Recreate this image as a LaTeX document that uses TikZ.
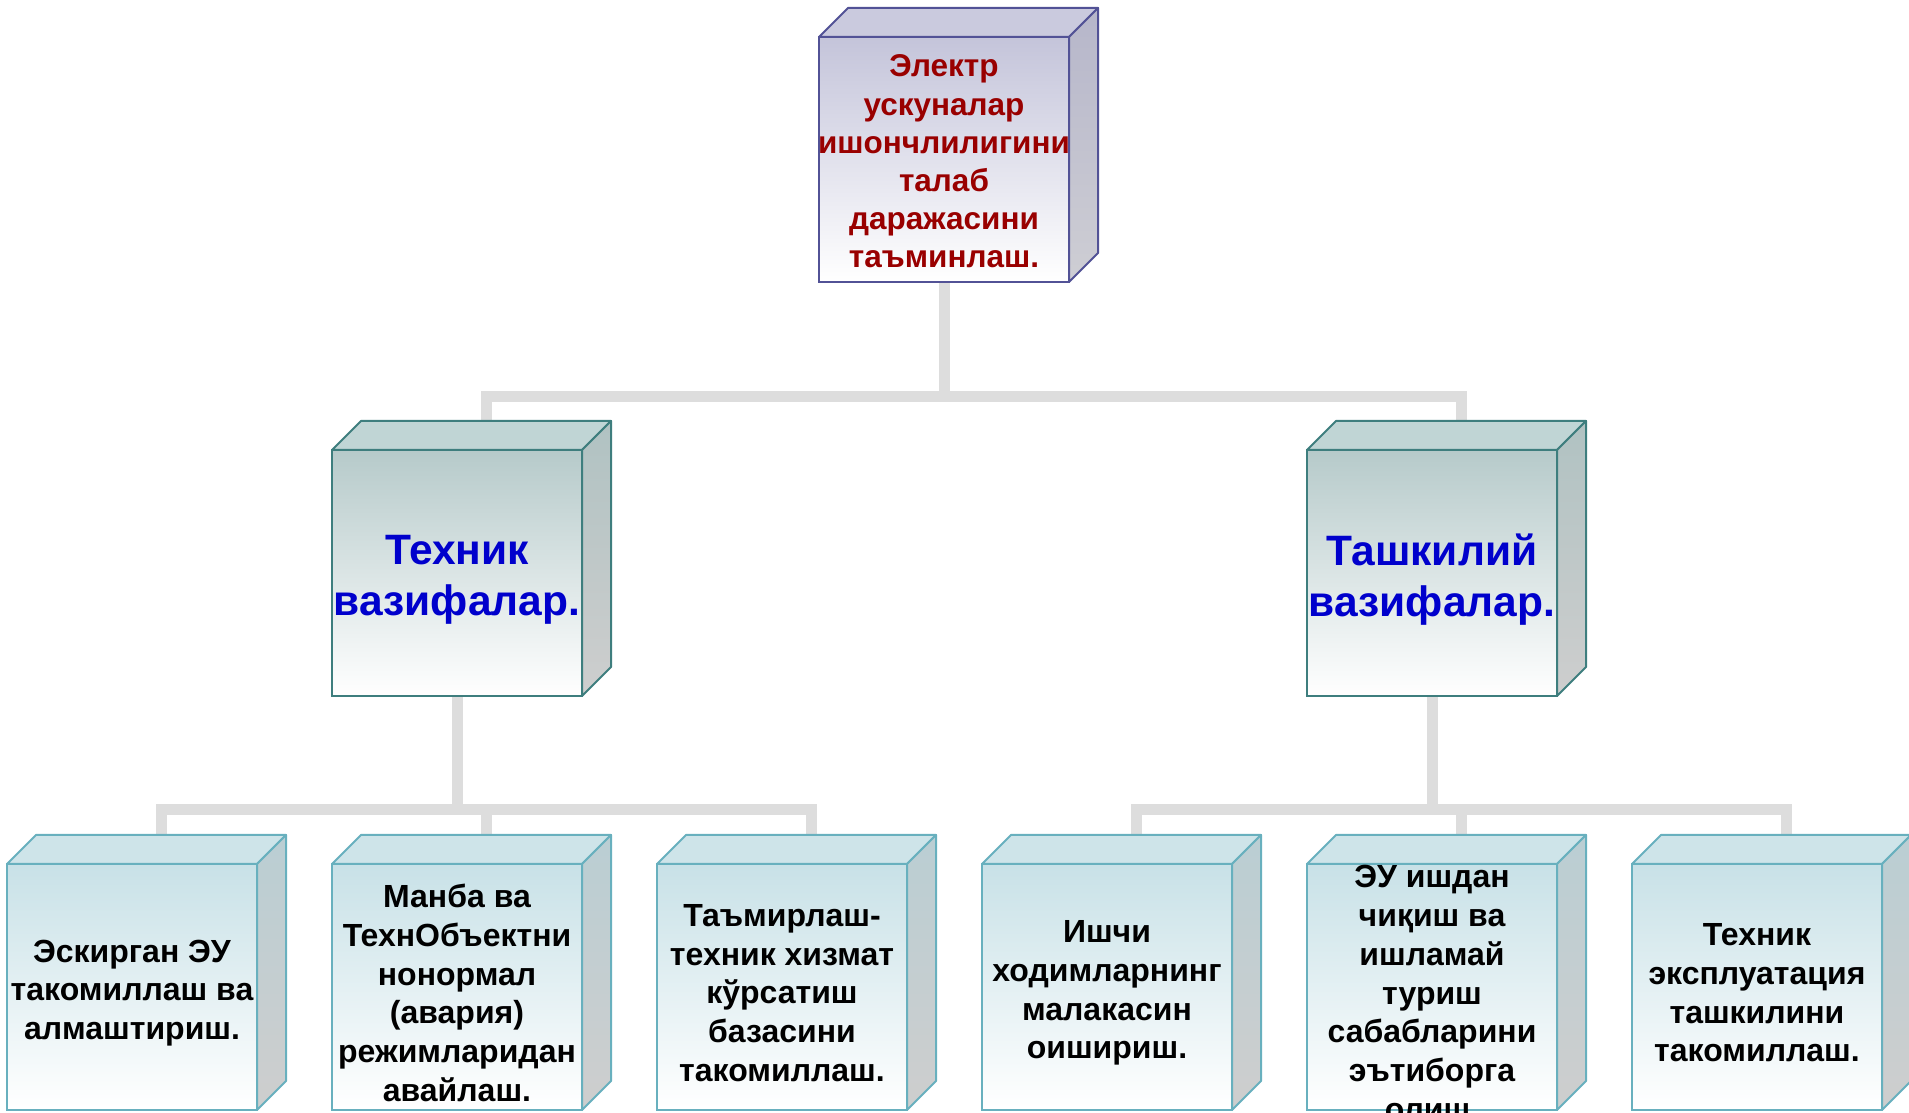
\documentclass[tikz,border=0pt]{standalone}
\usepackage{fontspec}
\setmainfont{Liberation Sans}
\usetikzlibrary{backgrounds}

% colour families: Edge, Top face, Front gradient start, Side gradient
\definecolor{connGray}{RGB}{221,221,221}
\definecolor{lavEdge}{RGB}{82,82,150}
\definecolor{lavTop}{RGB}{202,202,222}
\definecolor{lavFront}{RGB}{196,196,218}
\definecolor{lavSideA}{RGB}{182,182,202}
\definecolor{lavSideB}{RGB}{206,206,212}
\definecolor{tealEdge}{RGB}{62,126,126}
\definecolor{tealTop}{RGB}{192,213,213}
\definecolor{tealFront}{RGB}{182,202,202}
\definecolor{tealSideA}{RGB}{176,194,194}
\definecolor{tealSideB}{RGB}{206,206,206}
\definecolor{cyanEdge}{RGB}{104,176,190}
\definecolor{cyanTop}{RGB}{206,228,233}
\definecolor{cyanFront}{RGB}{200,225,231}
\definecolor{cyanSideA}{RGB}{186,206,211}
\definecolor{cyanSideB}{RGB}{206,206,206}
\definecolor{titleRed}{RGB}{153,0,0}
\definecolor{headBlue}{RGB}{0,0,204}

\def\dep{29}

% top and right faces of a cube whose front face is node #1
\newcommand\cubefaces[2]{%
  \draw[draw=#2Edge, line width=2pt, line join=round, fill=#2Top]
    (#1.north west) -- ++(\dep,\dep) -- ([shift={(\dep,\dep)}]#1.north east)
    -- (#1.north east) -- cycle;
  \draw[draw=#2Edge, line width=2pt, line join=round, top color=#2SideA, bottom color=#2SideB]
    (#1.north east) -- ([shift={(\dep,\dep)}]#1.north east)
    -- ([shift={(\dep,\dep)}]#1.south east) -- (#1.south east) -- cycle;
}

\tikzset{
  conn/.style={draw=connGray, line width=11pt},
  front/.style n args={2}{rectangle, draw=#1Edge, line width=2pt, top color=#1Front,
    bottom color=white, minimum width=250pt, minimum height=#2, inner sep=0pt, outer sep=0pt},
  txt/.style={inner sep=0pt, align=center},
  titletxt/.style={txt, text=titleRed, yshift=-2pt, font=\fontsize{31.5}{38.2}\selectfont\bfseries},
  headtxt/.style={txt, text=headBlue, yshift=-7pt, font=\fontsize{42.5}{51}\selectfont\bfseries},
  leaftxt/.style={txt, text=black, yshift=-6pt, font=\fontsize{32}{38.7}\selectfont\bfseries},
}

\begin{document}
\begin{tikzpicture}[x=1pt, y=1pt]
\useasboundingbox (0,0) rectangle (1909,1113);

% front faces of the cubes
\node[front={lav}{245pt}]  (goal) at (944,953.5) {};
\node[front={teal}{246pt}] (tech) at (457,540) {};
\node[front={teal}{246pt}] (org)  at (1432,540) {};
\node[front={cyan}{246pt}] (b1) at (132,126) {};
\node[front={cyan}{246pt}] (b2) at (457,126) {};
\node[front={cyan}{246pt}] (b3) at (782,126) {};
\node[front={cyan}{246pt}] (b4) at (1107,126) {};
\node[front={cyan}{246pt}] (b5) at (1432,126) {};
\node[front={cyan}{246pt}] (b6) at (1757,126) {};

% top and side faces
\cubefaces{goal}{lav}
\cubefaces{tech}{teal}
\cubefaces{org}{teal}
\foreach \b in {b1,b2,b3,b4,b5,b6} { \cubefaces{\b}{cyan} }

% junction points of the connectors
\coordinate (j1) at (944,716);
\coordinate (j2) at (457,303);
\coordinate (j3) at (1432,303);

% connectors, behind the cubes
\begin{scope}[on background layer]
\draw[conn] (goal.south) -- (j1);
\draw[conn] ([shift={(\dep,\dep)}]tech.north) |- (j1);
\draw[conn] ([shift={(\dep,\dep)}]org.north) |- (j1);
\draw[conn] (tech.south) -- (j2);
\draw[conn] ([shift={(\dep,\dep)}]b1.north) |- (j2);
\draw[conn] ([shift={(\dep,\dep)}]b2.north) -- ([shift={(\dep,0)}]b2.north |- j2);
\draw[conn] ([shift={(\dep,\dep)}]b3.north) |- (j2);
\draw[conn] (org.south) -- (j3);
\draw[conn] ([shift={(\dep,\dep)}]b4.north) |- (j3);
\draw[conn] ([shift={(\dep,\dep)}]b5.north) -- ([shift={(\dep,0)}]b5.north |- j3);
\draw[conn] ([shift={(\dep,\dep)}]b6.north) |- (j3);
\end{scope}

% texts
\node[titletxt] (goal-t) at (goal) {Электр\\ускуналар\\ишончлилигини\\талаб\\даражасини\\таъминлаш.};
\node[headtxt] (tech-t) at (tech) {Техник\\вазифалар.};
\node[headtxt] (org-t) at (org) {Ташкилий\\вазифалар.};
\node[leaftxt] (b1-t) at (b1) {Эскирган ЭУ\\такомиллаш ва\\алмаштириш.};
\node[leaftxt] (b2-t) at (b2) {Манба ва\\ТехнОбъектни\\нонормал\\(авария)\\режимларидан\\авайлаш.};
\node[leaftxt] (b3-t) at (b3) {Таъмирлаш-\\техник хизмат\\кўрсатиш\\базасини\\такомиллаш.};
\node[leaftxt] (b4-t) at (b4) {Ишчи\\ходимларнинг\\малакасин\\оишириш.};
\node[leaftxt] (b5-t) at (b5) {ЭУ ишдан\\чиқиш ва\\ишламай\\туриш\\сабабларини\\эътиборга\\олиш.};
\node[leaftxt] (b6-t) at (b6) {Техник\\эксплуатация\\ташкилини\\такомиллаш.};
\end{tikzpicture}
\end{document}
